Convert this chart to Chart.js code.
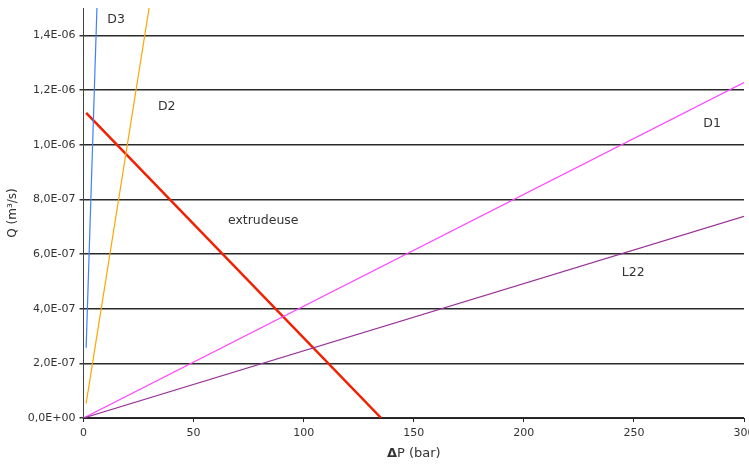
<!DOCTYPE html>
<html lang="fr">
<head>
<meta charset="UTF-8">
<title>Q - ΔP</title>
<script src="https://cdn.jsdelivr.net/npm/chart.js"></script>
<style>
  html, body { margin: 0; padding: 0; background: #fff; }
  #zone { width: 749px; height: 466px; }
</style>
</head>
<body>
<div id="zone"><canvas id="graphe"></canvas></div>
<script>
  // valeurs (ΔP en bar, Q en m3/s)
  const pointsD3 = [[1.2, 2.57e-7], [6.1, 1.5e-6]];
  const pointsD2 = [[1.2, 5.35e-8], [29.8, 1.5e-6]];
  const pointsExtrudeuse = [[1.2, 1.116e-6], [135.2, 0]];
  const pointsD1 = [[0, 0], [300, 1.227e-6]];
  const pointsL22 = [[0, 0], [300, 7.38e-7]];

  const ticksX = [0, 50, 100, 150, 200, 250, 300];
  const ticksY = [0, 2e-7, 4e-7, 6e-7, 8e-7, 1e-6, 1.2e-6, 1.4e-6];

  // étiquettes des courbes : [texte, ΔP, Q]
  const etiquettes = [
    ['D3', 10.8, 1.456e-6],
    ['D2', 33.8, 1.138e-6],
    ['D1', 281.5, 1.0775e-6],
    ['extrudeuse', 65.6, 7.23e-7],
    ['L22', 244.5, 5.32e-7]
  ];

  function versXY(liste) {
    return liste.map(p => ({ x: p[0], y: p[1] }));
  }

  function formatSci(v) {
    if (v === 0) return '0,0E+00';
    let exp = Math.floor(Math.log10(Math.abs(v)) + 1e-9);
    let mant = v / Math.pow(10, exp);
    let signe = exp < 0 ? '-' : '+';
    let e = String(Math.abs(exp)).padStart(2, '0');
    return mant.toFixed(1).replace('.', ',') + 'E' + signe + e;
  }

  const police = "'DejaVu Sans', Verdana, sans-serif";

  // texte sur les courbes + titre de l'axe x avec le delta en gras
  const pluginTextes = {
    id: 'textes',
    afterDraw(chart) {
      const ctx = chart.ctx;
      const sx = chart.scales.x, sy = chart.scales.y;
      ctx.save();
      ctx.fillStyle = '#333';
      ctx.font = '12.5px ' + police;
      ctx.textBaseline = 'middle';
      ctx.textAlign = 'left';
      etiquettes.forEach(function (e) {
        ctx.fillText(e[0], sx.getPixelForValue(e[1]), sy.getPixelForValue(e[2]));
      });

      const cx = (chart.chartArea.left + chart.chartArea.right) / 2;
      ctx.font = 'bold 13px ' + police;
      let wd = ctx.measureText('Δ').width;
      ctx.font = '13px ' + police;
      let wr = ctx.measureText('P (bar)').width;
      let x0 = cx - (wd + wr) / 2;
      ctx.font = 'bold 13px ' + police;
      ctx.fillText('Δ', x0, 454);
      ctx.font = '13px ' + police;
      ctx.fillText('P (bar)', x0 + wd, 454);
      ctx.restore();
    }
  };

  function serie(nom, pts, couleur, epaisseur) {
    return {
      label: nom,
      data: versXY(pts),
      borderColor: couleur,
      backgroundColor: couleur,
      borderWidth: epaisseur,
      pointRadius: 0,
      tension: 0
    };
  }

  const config = {
    type: 'line',
    data: {
      datasets: [
        serie('L22', pointsL22, '#993399', 1.2),
        serie('D1', pointsD1, '#ff44ff', 1.2),
        serie('D2', pointsD2, '#ffa500', 1.2),
        serie('D3', pointsD3, '#3f7fff', 1.2),
        serie('extrudeuse', pointsExtrudeuse, '#f02000', 2.5)
      ]
    },
    options: {
      responsive: true,
      maintainAspectRatio: false,
      animation: false,
      layout: { autoPadding: false, padding: { top: 8, left: 0, right: 5, bottom: 0 } },
      plugins: {
        legend: { display: false },
        tooltip: { enabled: false }
      },
      scales: {
        x: {
          type: 'linear',
          min: 0,
          max: 300,
          afterBuildTicks(scale) { scale.ticks = ticksX.map(v => ({ value: v })); },
          afterFit(scale) {
            scale.height = 48;
            scale.paddingLeft = 0;
            scale.paddingRight = 0;
          },
          grid: { drawOnChartArea: false, drawTicks: true, tickLength: 4, color: '#222' },
          border: { color: '#222', width: 1 },
          ticks: { color: '#333', font: { family: police, size: 11 }, padding: 5, maxRotation: 0 }
        },
        y: {
          type: 'linear',
          min: 0,
          max: 1.5e-6,
          afterBuildTicks(scale) { scale.ticks = ticksY.map(v => ({ value: v })); },
          afterFit(scale) {
            scale.width = 83.5;
            scale.paddingTop = 0;
            scale.paddingBottom = 0;
          },
          grid: { color: '#2a2a2a', lineWidth: 1.5, drawTicks: true, tickLength: 4, tickColor: '#333' },
          border: { color: '#444', width: 1 },
          title: {
            display: true,
            text: 'Q (m³/s)',
            color: '#333',
            font: { family: police, size: 12 },
            padding: { top: 6, bottom: 8 }
          },
          ticks: {
            color: '#333',
            font: { family: police, size: 11 },
            padding: 4,
            callback: v => formatSci(v)
          }
        }
      }
    },
    plugins: [pluginTextes]
  };

  new Chart(document.getElementById('graphe'), config);
</script>
</body>
</html>
